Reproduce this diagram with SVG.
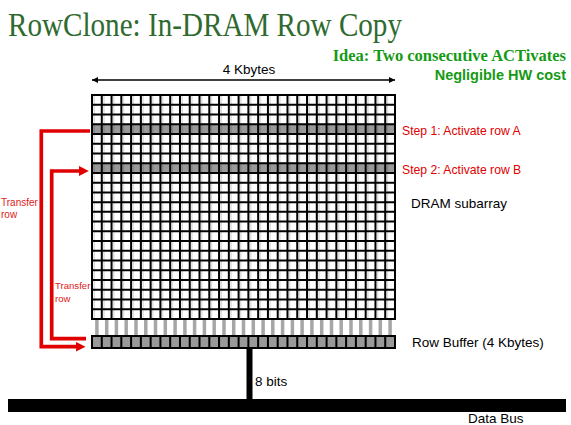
<svg xmlns="http://www.w3.org/2000/svg" width="571" height="425" viewBox="0 0 571 425">
<style>
.sans{font-family:"Liberation Sans","DejaVu Sans",sans-serif}
.red{fill:#e00000}
.lbl{font-size:13.5px;fill:#000}
.grid{fill:none;stroke:#000;stroke-width:2}
.arrow{fill:none;stroke:#e00000;stroke-width:3.7;stroke-linejoin:miter}
</style>
<defs>
<marker id="ra" markerUnits="userSpaceOnUse" markerWidth="10" markerHeight="10" refX="0.5" refY="5" orient="auto"><path d="M0,0L10,5L0,10z" fill="#e00000"/></marker>
<marker id="ba" markerUnits="userSpaceOnUse" markerWidth="6" markerHeight="6" refX="6" refY="3" orient="auto-start-reverse"><path d="M0,0L6,3L0,6z" fill="#000"/></marker>
</defs>
<rect width="571" height="425" fill="#fff"/>
<text id="title" x="8" y="36" font-family="'Liberation Serif',serif" font-size="34" fill="#2f6a2f" textLength="394" lengthAdjust="spacingAndGlyphs">RowClone: In-DRAM Row Copy</text>
<text x="566" y="61" text-anchor="end" font-family="'Liberation Serif',serif" font-weight="bold" font-size="16.5" fill="#149a14">Idea: Two consecutive ACTivates</text>
<text x="566" y="80" text-anchor="end" class="sans" font-weight="bold" font-size="14.5" fill="#149a14">Negligible HW cost</text>
<g id="subarray">
<rect x="92" y="95" width="303" height="224" fill="#fff"/>
<rect x="92" y="124.22" width="303" height="9.74" fill="#999"/>
<rect x="92" y="163.17" width="303" height="9.74" fill="#999"/>
<path stroke="#000" stroke-opacity="0.13" stroke-width="1.6" d="M94.2 95V319M104 95V319M113.8 95V319M123.5 95V319M133.3 95V319M143.1 95V319M152.8 95V319M162.6 95V319M172.4 95V319M182.2 95V319M191.9 95V319M201.7 95V319M211.5 95V319M221.3 95V319M231 95V319M240.8 95V319M250.6 95V319M260.4 95V319M270.1 95V319M279.9 95V319M289.7 95V319M299.5 95V319M309.2 95V319M319 95V319M328.8 95V319M338.6 95V319M348.3 95V319M358.1 95V319M367.9 95V319M377.6 95V319M387.4 95V319"/>
<path class="grid" d="M92 95V319M101.77 95V319M111.55 95V319M121.32 95V319M131.1 95V319M140.87 95V319M150.64 95V319M160.42 95V319M170.19 95V319M179.97 95V319M189.74 95V319M199.51 95V319M209.29 95V319M219.06 95V319M228.84 95V319M238.61 95V319M248.38 95V319M258.16 95V319M267.93 95V319M277.71 95V319M287.48 95V319M297.25 95V319M307.03 95V319M316.8 95V319M326.58 95V319M336.35 95V319M346.12 95V319M355.9 95V319M365.67 95V319M375.45 95V319M385.22 95V319M395 95V319M91 95H396M91 104.74H396M91 114.48H396M91 124.22H396M91 133.96H396M91 143.7H396M91 153.43H396M91 163.17H396M91 172.91H396M91 182.65H396M91 192.39H396M91 202.13H396M91 211.87H396M91 221.61H396M91 231.35H396M91 241.09H396M91 250.83H396M91 260.57H396M91 270.3H396M91 280.04H396M91 289.78H396M91 299.52H396M91 309.26H396M91 319H396"/>
</g>
<g id="rowbuffer">
<rect x="92" y="336" width="303" height="12" fill="#999"/>
<path class="grid" d="M91 336H396M91 348H396M92 336V348M101.77 336V348M111.55 336V348M121.32 336V348M131.1 336V348M140.87 336V348M150.64 336V348M160.42 336V348M170.19 336V348M179.97 336V348M189.74 336V348M199.51 336V348M209.29 336V348M219.06 336V348M228.84 336V348M238.61 336V348M248.38 336V348M258.16 336V348M267.93 336V348M277.71 336V348M287.48 336V348M297.25 336V348M307.03 336V348M316.8 336V348M326.58 336V348M336.35 336V348M346.12 336V348M355.9 336V348M365.67 336V348M375.45 336V348M385.22 336V348M395 336V348"/>
</g>
<g id="databus">
<rect x="8" y="399" width="558" height="13" fill="#000"/>
</g>
<g id="connectors">
<path stroke="#a6a6a6" stroke-width="3.5" d="M96.9 320V335M106.7 320V335M116.4 320V335M126.2 320V335M136 320V335M145.8 320V335M155.5 320V335M165.3 320V335M175.1 320V335M184.9 320V335M194.6 320V335M204.4 320V335M214.2 320V335M224 320V335M233.7 320V335M243.5 320V335M253.3 320V335M263.1 320V335M272.8 320V335M282.6 320V335M292.4 320V335M302.1 320V335M311.9 320V335M321.7 320V335M331.5 320V335M341.2 320V335M351 320V335M360.8 320V335M370.6 320V335M380.3 320V335M390.1 320V335"/>
<path stroke="#000" stroke-width="6" d="M249.5 348V400"/>
<path stroke="#000" stroke-width="1.5" fill="none" marker-start="url(#ba)" marker-end="url(#ba)" d="M92 80H395"/>
<path class="arrow" marker-end="url(#ra)" d="M90 131H41.3V346.7H76"/>
<path class="arrow" marker-end="url(#ra)" d="M86 338.7H51.7V171H79.3"/>
</g>
<g id="labels" class="sans">
<text x="249" y="74" text-anchor="middle" class="lbl">4 Kbytes</text>
<text x="402" y="135" font-size="12.2" class="red">Step 1: Activate row A</text>
<text x="402" y="174" font-size="12.2" class="red">Step 2: Activate row B</text>
<text x="411" y="208" class="lbl">DRAM subarray</text>
<text x="412" y="347" class="lbl">Row Buffer (4 Kbytes)</text>
<text x="255" y="386" class="lbl">8 bits</text>
<text x="468" y="423" class="lbl">Data Bus</text>
<text font-size="10" fill="#e02020"><tspan x="1" y="205.5">Transfer</tspan><tspan x="1" y="218">row</tspan></text>
<text font-size="9.6" fill="#e02020"><tspan x="55" y="289">Transfer</tspan><tspan x="55" y="301.5">row</tspan></text>
</g>
</svg>
